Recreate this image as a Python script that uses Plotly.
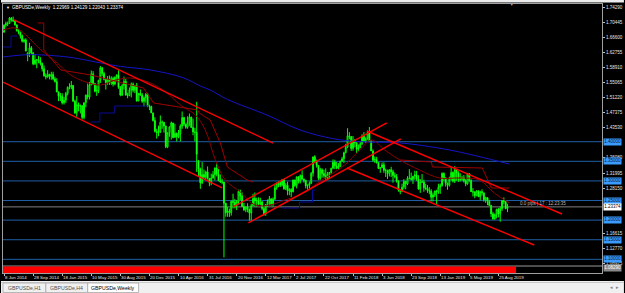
import plotly.graph_objects as go
import pandas as pd

FONT = "Liberation Sans, Arial, sans-serif"

# ---------------- weekly GBPUSD bars (week starting Sunday) ----------------
open_ = [
    # 2014
    1.6795,1.6975,1.7012,1.7018,1.7155,1.7106,1.7077,1.6980,1.6835,1.6785,
    1.6700,1.6560,1.6595,1.6200,1.6265,1.6395,1.6260,1.5985,1.6080,1.6090,
    1.6065,1.5995,1.5860,1.5680,1.5655,1.5720,1.5665,1.5715,1.5600,1.5535,
    # 2015
    1.5270,1.5160,1.5160,1.4995,1.5060,1.5235,1.5390,1.5395,1.5435,1.5030,
    1.4735,1.4945,1.4910,1.4915,1.4620,1.4995,1.5190,1.5140,1.5450,1.5730,
    1.5480,1.5285,1.5305,1.5570,1.5885,1.5740,1.5595,1.5510,1.5595,1.5510,
    1.5615,1.5470,1.5645,1.5700,1.5385,1.5190,1.5435,1.5535,1.5190,1.5180,
    1.5320,1.5470,1.5310,1.5430,1.5040,1.5235,1.5190,1.5030,1.5120,1.5210,
    1.4900,1.4900,
    # 2016
    1.4735,1.4540,1.4265,1.4235,1.4245,1.4500,1.4495,1.4400,1.3870,1.4230,
    1.4380,1.4480,1.4110,1.4215,1.4125,1.4200,1.4400,1.4615,1.4445,1.4370,
    1.4500,1.4630,1.4360,1.4250,1.4240,1.3500,1.3300,1.2950,1.3165,1.3095,
    1.3230,1.3060,1.2950,1.3075,1.3160,1.3330,1.3170,1.3005,1.2975,1.2970,
    1.2430,1.2190,1.2230,1.2190,1.2480,1.2455,1.2375,1.2475,1.2735,1.2615,
    1.2350,1.2265,
    # 2017
    1.2340,1.2285,1.2180,1.2370,1.2555,1.2490,1.2490,1.2410,1.2465,1.2295,
    1.2165,1.2400,1.2475,1.2545,1.2400,1.2535,1.2825,1.2940,1.2960,1.2890,
    1.3030,1.2800,1.2890,1.2745,1.2780,1.2720,1.3025,1.2885,1.3100,1.2995,
    1.3135,1.3045,1.3010,1.2875,1.2880,1.2935,1.3195,1.3615,1.3495,1.3395,
    1.3065,1.3285,1.3190,1.3135,1.3075,1.3185,1.3215,1.3325,1.3475,1.3385,
    1.3330,1.3365,1.3505,
    # 2018
    1.3565,1.3720,1.3860,1.4150,1.4130,1.3830,1.4025,1.3970,1.3810,1.3845,
    1.3950,1.4140,1.4020,1.4085,1.4235,1.4010,1.3765,1.3530,1.3545,1.3465,
    1.3315,1.3340,1.3410,1.3270,1.3265,1.3190,1.3285,1.3235,1.3140,1.3110,
    1.3000,1.2765,1.2735,1.2840,1.2990,1.2925,1.3070,1.3070,1.3035,1.3120,
    1.3150,1.3050,1.2795,1.2970,1.2975,1.2825,1.2805,1.2750,1.2745,1.2585,
    1.2640,1.2745,
    # 2019
    1.2720,1.2840,1.2880,1.3195,1.3075,1.2940,1.2890,1.3045,1.3215,1.3000,
    1.3290,1.3205,1.3035,1.3040,1.3085,1.3005,1.2925,1.3185,1.3010,1.2725,
    1.2715,1.2625,1.2740,1.2595,1.2725,1.2695,1.2520,1.2575,1.2480,1.2375,
    1.2160,1.2030,1.2145,1.2275,1.2160,1.2290,1.2500,1.2475,1.2297,
]
high = [
    # 2014
    1.6993,1.7063,1.7065,1.7180,1.7180,1.7191,1.7100,1.6990,1.6870,1.6810,
    1.6735,1.6630,1.6640,1.6280,1.6525,1.6440,1.6290,1.6230,1.6110,1.6185,
    1.6155,1.6020,1.5945,1.5740,1.5825,1.5730,1.5785,1.5785,1.5660,1.5620,
    # 2015
    1.5280,1.5245,1.5235,1.5145,1.5270,1.5410,1.5490,1.5550,1.5450,1.5070,
    1.5165,1.5000,1.4950,1.4930,1.5000,1.5200,1.5485,1.5525,1.5815,1.5800,
    1.5500,1.5440,1.5570,1.5930,1.5900,1.5785,1.5600,1.5675,1.5690,1.5670,
    1.5660,1.5665,1.5720,1.5820,1.5420,1.5480,1.5660,1.5605,1.5250,1.5385,
    1.5510,1.5510,1.5440,1.5500,1.5240,1.5335,1.5240,1.5155,1.5240,1.5240,
    1.4945,1.4920,
    # 2016
    1.4740,1.4625,1.4330,1.4410,1.4670,1.4540,1.4500,1.4410,1.4235,1.4385,
    1.4515,1.4480,1.4460,1.4235,1.4300,1.4445,1.4770,1.4635,1.4465,1.4650,
    1.4720,1.4635,1.4590,1.4355,1.5018,1.3535,1.3340,1.3480,1.3290,1.3260,
    1.3370,1.3075,1.3185,1.3250,1.3340,1.3445,1.3305,1.3160,1.3055,1.2970,
    1.2440,1.2335,1.2295,1.2495,1.2675,1.2540,1.2515,1.2775,1.2775,1.2705,
    1.2440,1.2345,
    # 2017
    1.2430,1.2290,1.2415,1.2675,1.2705,1.2570,1.2580,1.2570,1.2485,1.2330,
    1.2405,1.2525,1.2615,1.2550,1.2580,1.2905,1.2960,1.2990,1.2990,1.3050,
    1.3045,1.2945,1.2980,1.2815,1.2815,1.3030,1.3030,1.3115,1.3125,1.3165,
    1.3270,1.3060,1.3030,1.2915,1.2985,1.3225,1.3615,1.3657,1.3545,1.3405,
    1.3335,1.3320,1.3285,1.3320,1.3225,1.3225,1.3335,1.3550,1.3540,1.3485,
    1.3455,1.3515,1.3615,
    # 2018
    1.3745,1.3945,1.4345,1.4245,1.4140,1.4145,1.4070,1.3990,1.3930,1.4000,
    1.4190,1.4245,1.4110,1.4285,1.4377,1.4040,1.3805,1.3620,1.3615,1.3485,
    1.3340,1.3470,1.3475,1.3315,1.3290,1.3300,1.3360,1.3285,1.3215,1.3175,
    1.3010,1.2795,1.2930,1.3045,1.2995,1.3120,1.3300,1.3215,1.3125,1.3260,
    1.3255,1.3145,1.3045,1.3175,1.3030,1.2925,1.2895,1.2840,1.2790,1.2700,
    1.2745,1.2775,
    # 2019
    1.2930,1.2935,1.3215,1.3215,1.3095,1.2960,1.3110,1.3350,1.3245,1.3380,
    1.3305,1.3245,1.3195,1.3130,1.3150,1.3045,1.3195,1.3190,1.3040,1.2815,
    1.2740,1.2765,1.2765,1.2750,1.2785,1.2700,1.2595,1.2585,1.2520,1.2385,
    1.2210,1.2170,1.2290,1.2310,1.2345,1.2505,1.2580,1.2500,1.2413,
]
low = [
    # 2014
    1.6780,1.6920,1.6950,1.7005,1.7060,1.7060,1.6960,1.6810,1.6740,1.6630,
    1.6535,1.6520,1.6305,1.6052,1.6160,1.6235,1.5950,1.5960,1.5875,1.6000,
    1.5945,1.5790,1.5660,1.5590,1.5630,1.5590,1.5580,1.5565,1.5510,1.5265,
    # 2015
    1.5035,1.5035,1.4950,1.4950,1.4990,1.5180,1.5335,1.5340,1.5025,1.4710,
    1.4635,1.4775,1.4720,1.4565,1.4570,1.4880,1.5080,1.5080,1.5440,1.5450,
    1.5260,1.5170,1.5240,1.5500,1.5675,1.5565,1.5330,1.5450,1.5450,1.5450,
    1.5410,1.5440,1.5550,1.5350,1.5160,1.5170,1.5330,1.5175,1.5110,1.5160,
    1.5130,1.5260,1.5240,1.5025,1.5035,1.5170,1.4990,1.4895,1.4995,1.4880,
    1.4805,1.4735,
    # 2016
    1.4515,1.4235,1.4080,1.4140,1.4225,1.4330,1.4235,1.3835,1.3835,1.4125,
    1.4055,1.4085,1.4105,1.4005,1.4090,1.4005,1.4330,1.4400,1.4330,1.4330,
    1.4405,1.4355,1.4165,1.4010,1.3229,1.3120,1.2798,1.2925,1.3060,1.3045,
    1.3035,1.2865,1.2890,1.3060,1.3015,1.3115,1.3000,1.2950,1.2915,1.1050,
    1.2085,1.2085,1.2080,1.2115,1.2300,1.2300,1.2255,1.2400,1.2505,1.2340,
    1.2230,1.2200,
    # 2017
    1.2200,1.1986,1.1985,1.2360,1.2345,1.2345,1.2385,1.2385,1.2250,1.2110,
    1.2110,1.2340,1.2375,1.2365,1.2345,1.2515,1.2775,1.2840,1.2845,1.2860,
    1.2775,1.2770,1.2635,1.2635,1.2590,1.2710,1.2850,1.2810,1.2935,1.2935,
    1.3030,1.2955,1.2810,1.2775,1.2810,1.2925,1.3110,1.3450,1.3340,1.3025,
    1.3030,1.3085,1.3080,1.3030,1.3040,1.3060,1.3180,1.3300,1.3300,1.3300,
    1.3300,1.3355,1.3490,
    # 2018
    1.3455,1.3705,1.3835,1.4065,1.3765,1.3770,1.3855,1.3710,1.3765,1.3835,
    1.3920,1.3990,1.3965,1.4050,1.4010,1.3765,1.3490,1.3460,1.3445,1.3305,
    1.3205,1.3330,1.3205,1.3100,1.3050,1.3115,1.3100,1.2955,1.3065,1.2955,
    1.2725,1.2660,1.2720,1.2790,1.2785,1.2890,1.3040,1.3010,1.2920,1.3030,
    1.3000,1.2775,1.2695,1.2950,1.2725,1.2770,1.2695,1.2660,1.2475,1.2475,
    1.2590,1.2400,
    # 2019
    1.2670,1.2670,1.2855,1.3005,1.2855,1.2775,1.2855,1.3005,1.2960,1.2945,
    1.3005,1.2975,1.2985,1.3000,1.2960,1.2865,1.2905,1.2975,1.2720,1.2605,
    1.2560,1.2610,1.2590,1.2505,1.2630,1.2475,1.2440,1.2380,1.2370,1.2080,
    1.2015,1.2015,1.2045,1.2070,1.1959,1.2235,1.2410,1.2280,1.2204,
]
close = [
    # 2014
    1.6975,1.7012,1.7018,1.7155,1.7106,1.7077,1.6980,1.6835,1.6785,1.6700,
    1.6560,1.6595,1.6315,1.6265,1.6395,1.6260,1.5985,1.6080,1.6090,1.6065,
    1.5995,1.5860,1.5680,1.5655,1.5720,1.5665,1.5715,1.5600,1.5535,1.5270,
    # 2015
    1.5160,1.5160,1.4995,1.5060,1.5235,1.5390,1.5395,1.5435,1.5030,1.4735,
    1.4945,1.4910,1.4915,1.4620,1.4995,1.5190,1.5140,1.5450,1.5730,1.5480,
    1.5285,1.5305,1.5570,1.5885,1.5740,1.5595,1.5510,1.5595,1.5510,1.5615,
    1.5470,1.5645,1.5700,1.5385,1.5190,1.5435,1.5535,1.5190,1.5180,1.5320,
    1.5470,1.5310,1.5430,1.5040,1.5235,1.5190,1.5030,1.5120,1.5210,1.4900,
    1.4900,1.4735,
    # 2016
    1.4540,1.4265,1.4235,1.4245,1.4500,1.4495,1.4400,1.3870,1.4230,1.4380,
    1.4480,1.4110,1.4215,1.4125,1.4200,1.4400,1.4615,1.4445,1.4370,1.4500,
    1.4630,1.4360,1.4250,1.4240,1.3680,1.3300,1.2950,1.3165,1.3095,1.3230,
    1.3060,1.2950,1.3075,1.3160,1.3330,1.3170,1.3005,1.2975,1.2970,1.2430,
    1.2190,1.2230,1.2190,1.2480,1.2455,1.2375,1.2475,1.2735,1.2615,1.2350,
    1.2265,1.2340,
    # 2017
    1.2285,1.2180,1.2370,1.2555,1.2490,1.2490,1.2410,1.2465,1.2295,1.2165,
    1.2400,1.2475,1.2545,1.2400,1.2535,1.2825,1.2940,1.2960,1.2890,1.3030,
    1.2800,1.2890,1.2745,1.2780,1.2720,1.3025,1.2885,1.3100,1.2995,1.3135,
    1.3045,1.3010,1.2875,1.2880,1.2935,1.3195,1.3615,1.3495,1.3395,1.3065,
    1.3285,1.3190,1.3135,1.3075,1.3185,1.3215,1.3325,1.3475,1.3385,1.3330,
    1.3365,1.3505,1.3565,
    # 2018
    1.3720,1.3860,1.4150,1.4130,1.3830,1.4025,1.3970,1.3810,1.3845,1.3950,
    1.4140,1.4020,1.4085,1.4235,1.4010,1.3765,1.3530,1.3545,1.3465,1.3315,
    1.3340,1.3410,1.3270,1.3265,1.3190,1.3285,1.3235,1.3140,1.3110,1.3000,
    1.2765,1.2735,1.2840,1.2990,1.2925,1.3070,1.3070,1.3035,1.3120,1.3150,
    1.3050,1.2795,1.2970,1.2975,1.2825,1.2805,1.2750,1.2745,1.2585,1.2640,
    1.2745,1.2720,
    # 2019
    1.2840,1.2880,1.3195,1.3075,1.2940,1.2890,1.3045,1.3215,1.3000,1.3290,
    1.3205,1.3035,1.3040,1.3085,1.3005,1.2925,1.3185,1.3010,1.2725,1.2715,
    1.2625,1.2740,1.2595,1.2725,1.2695,1.2520,1.2575,1.2480,1.2375,1.2160,
    1.2030,1.2145,1.2275,1.2160,1.2290,1.2500,1.2475,1.2290,1.2337,
]
week_start = pd.date_range("2014-06-08", periods=len(close), freq="7D")

# ---------------- axis labels ----------------
x_tick_dates = ["2014-06-08", "2014-09-28", "2015-01-18", "2015-05-10", "2015-08-30",
                "2015-12-20", "2016-04-10", "2016-07-31", "2016-11-20", "2017-03-12",
                "2017-07-02", "2017-10-22", "2018-02-11", "2018-06-03", "2018-09-23",
                "2019-01-13", "2019-05-05", "2019-08-25"]
x_tick_labels = ["8 Jun 2014", "28 Sep 2014", "18 Jan 2015", "10 May 2015", "30 Aug 2015",
                 "20 Dec 2015", "10 Apr 2016", "31 Jul 2016", "20 Nov 2016", "12 Mar 2017",
                 "2 Jul 2017", "22 Oct 2017", "11 Feb 2018", "3 Jun 2018", "23 Sep 2018",
                 "13 Jan 2019", "5 May 2019", "25 Aug 2019"]
y_tick_labels = ["1.74290", "1.70445", "1.66600", "1.62755", "1.58910", "1.55065",
                 "1.51220", "1.47375", "1.43530", "1.36080", "1.31995", "1.28150",
                 "1.16615", "1.12770", "1.08925"]

# ---------------- objects on the chart ----------------
levels = [1.40, 1.35, 1.30, 1.25, 1.20, 1.15, 1.10]
current_price = 1.23374
bottom_line_price = 1.0829
title_text = "GBPUSDe,Weekly  1.22969 1.24129 1.22043 1.23374"
timer_text = "0.0 pips | 17 : 12:23:35"

# red trend lines: (start date, start price, end date, end price)
trend_x0 = ["2014-07-16", "2014-06-04", "2017-01-04", "2016-11-06", "2018-04-05", "2018-01-19"]
trend_y0 = [1.7105, 1.5523, 1.1927, 1.2335, 1.4273, 1.3330]
trend_x1 = ["2017-04-09", "2016-09-25", "2018-08-14", "2018-06-21", "2020-04-26", "2020-01-10"]
trend_y1 = [1.3967, 1.2820, 1.4070, 1.4478, 1.2156, 1.1365]

# long blue moving average
ma_blue_x = ["2014-06-04", "2014-08-12", "2014-10-01", "2015-02-09", "2015-06-15",
             "2015-08-31", "2015-12-24", "2016-04-29", "2016-07-03", "2016-08-10",
             "2016-10-15", "2017-03-17", "2017-07-22", "2017-11-25", "2018-03-09",
             "2018-08-10", "2019-02-17", "2019-10-06"]
ma_blue_y = [1.6161, 1.6210, 1.6220, 1.6160, 1.6010, 1.5920, 1.5830, 1.5630, 1.5421,
             1.5320, 1.5080, 1.4680, 1.4300, 1.4080, 1.4000, 1.3970, 1.3790, 1.3430]

# dark red moving average
ma_red_x = ["2014-06-04", "2014-07-24", "2014-08-31", "2014-10-28", "2014-12-25",
            "2015-02-20", "2015-04-19", "2015-06-15", "2015-08-12", "2015-10-08",
            "2015-12-24", "2016-02-20", "2016-04-17", "2016-06-14", "2016-07-22",
            "2016-08-30", "2016-10-07", "2016-12-04", "2017-01-30", "2017-03-29",
            "2017-05-25", "2017-07-22", "2017-09-17", "2017-11-14", "2018-01-10",
            "2018-03-09", "2018-04-24", "2018-06-13", "2018-08-10", "2018-10-25",
            "2019-01-10", "2019-03-28", "2019-06-13", "2019-08-09", "2019-10-06"]
ma_red_y = [1.6850, 1.6901, 1.6722, 1.6340, 1.6034, 1.5702, 1.5523, 1.5447, 1.5574,
            1.5625, 1.5498, 1.5268, 1.4937, 1.4682, 1.4299, 1.3534, 1.3024, 1.2718,
            1.2386, 1.2386, 1.2513, 1.2641, 1.2896, 1.3151, 1.3406, 1.3789, 1.4044,
            1.3789, 1.3534, 1.3279, 1.3075, 1.3075, 1.3024, 1.2692, 1.2437]

# dark red upper channel line, pieces visible in the picture (None = gap)
chan_red_x = ["2014-10-16", "2014-11-08", "2014-11-08", "2015-01-13", "2015-05-08",
              "2015-09-11", "2015-11-27", "2016-01-05", "2016-06-22", "2016-06-29",
              "2016-08-10", "2016-09-18", "2016-10-15", "2016-12-30", "2017-01-22",
              None,
              "2018-08-10", "2018-12-10", "2018-12-14", "2019-06-24", "2019-07-29",
              "2019-10-06"]
chan_red_y = [1.7029, 1.7029, 1.6340, 1.5828, 1.5702, 1.5498, 1.5370, 1.4988, 1.4810,
              1.4733, 1.4554, 1.3967, 1.3355, 1.3024, 1.2973,
              None,
              1.3534, 1.3483, 1.3355, 1.3330, 1.2819, 1.2819]

# navy step line segments
step_a_x = ["2014-06-04", "2014-07-05", "2014-07-28"]
step_a_y = [1.6416, 1.6697, 1.6697]
step_b_x = ["2015-05-08", "2015-06-12", "2015-08-08", "2015-12-16"]
step_b_y = [1.4503, 1.4733, 1.4911, 1.4911]
step_c_x = ["2017-05-14", "2017-07-20", "2017-09-08", "2017-09-20"]
step_c_y = [1.2309, 1.2462, 1.2768, 1.2768]

red_box_end = "2019-11-01"
red_box_low, red_box_high = 1.0640, 1.0815

# ---------------- figure ----------------
W, H = 625, 293
ML, MR, MT, MB = 2, 22, 4, 20
PW, PH = W - ML - MR, H - MT - MB


def px(xp):
    return (xp - ML) / PW


def py(yp):
    return (H - MB - yp) / PH


fig = go.Figure()

for lv in levels:
    fig.add_shape(type="line", xref="paper", x0=0, x1=1, yref="y", y0=lv, y1=lv,
                  line=dict(color="#1f5fa6", width=1), layer="below")
fig.add_shape(type="line", xref="paper", x0=0, x1=1, yref="y", y0=current_price,
              y1=current_price, line=dict(color="#808080", width=1), layer="below")
fig.add_shape(type="line", xref="paper", x0=0, x1=1, yref="y", y0=bottom_line_price,
              y1=bottom_line_price, line=dict(color="#9a9a9a", width=1), layer="below")
fig.add_shape(type="rect", xref="x", x0="2014-05-01", x1=red_box_end, yref="y",
              y0=red_box_low, y1=red_box_high, fillcolor="#ff0000",
              line=dict(width=0), layer="below")

fig.add_trace(go.Scatter(x=ma_blue_x, y=ma_blue_y, mode="lines", line_shape="spline",
                         line=dict(color="#1414c8", width=1), hoverinfo="skip"))
fig.add_trace(go.Scatter(x=ma_red_x, y=ma_red_y, mode="lines", line_shape="spline",
                         line=dict(color="#8b0000", width=1), hoverinfo="skip"))
fig.add_trace(go.Scatter(x=chan_red_x, y=chan_red_y, mode="lines", connectgaps=False,
                         line=dict(color="#a00000", width=1), hoverinfo="skip"))
for sx, sy in ((step_a_x, step_a_y), (step_b_x, step_b_y), (step_c_x, step_c_y)):
    fig.add_trace(go.Scatter(x=sx, y=sy, mode="lines", line_shape="hv",
                             line=dict(color="#0a0a96", width=1), hoverinfo="skip"))

fig.add_trace(go.Candlestick(
    x=week_start, open=open_, high=high, low=low, close=close,
    increasing=dict(line=dict(color="#00ff00", width=1), fillcolor="#000000"),
    decreasing=dict(line=dict(color="#00ff00", width=1), fillcolor="#d8ffd8"),
    whiskerwidth=0, hoverinfo="skip"))

for x0, y0, x1, y1 in zip(trend_x0, trend_y0, trend_x1, trend_y1):
    fig.add_trace(go.Scatter(x=[x0, x1], y=[y0, y1], mode="lines",
                             line=dict(color="#ff0000", width=1.4), hoverinfo="skip"))

# price labels on the right scale
for lv in levels:
    fig.add_annotation(x=1, xref="paper", y=lv, yref="y", text=f"{lv:.5f}",
                       showarrow=False, xanchor="left", xshift=1,
                       font=dict(size=4.5, color="#06143c", family=FONT),
                       bgcolor="#3a9cff", borderpad=0.3)
fig.add_annotation(x=1, xref="paper", y=current_price, yref="y", text=f"{current_price:.5f}",
                   showarrow=False, xanchor="left", xshift=1,
                   font=dict(size=4.5, color="#000000", family=FONT),
                   bgcolor="#ffffff", borderpad=0.3)
fig.add_annotation(x=1, xref="paper", y=bottom_line_price - 0.006, yref="y",
                   text=f"{bottom_line_price:.5f}", showarrow=False, xanchor="left", xshift=1,
                   font=dict(size=4.5, color="#ffffff", family=FONT),
                   bgcolor="#8a8a8a", borderpad=0.3)
fig.add_annotation(x="2019-11-08", xref="x", y=current_price, yref="y", text=timer_text,
                   showarrow=False, xanchor="left", yanchor="bottom", yshift=-1,
                   font=dict(size=4.5, color="#b8b8b8", family=FONT))

# date labels, left-aligned on their ticks as in the terminal
for d, lab in zip(x_tick_dates, x_tick_labels):
    fig.add_annotation(x=d, xref="x", y=py(277.5), yref="paper", text=lab, showarrow=False,
                       xanchor="left", yanchor="middle", xshift=-1,
                       font=dict(size=4.4, color="#e6e6e6", family=FONT))

# title
fig.add_annotation(x=px(3), y=py(7), xref="paper", yref="paper", text="▼", showarrow=False,
                   xanchor="left", yanchor="middle", font=dict(size=4, color="#ffffff", family=FONT))
fig.add_annotation(x=px(9), y=py(7), xref="paper", yref="paper", text=title_text,
                   showarrow=False, xanchor="left", yanchor="middle",
                   font=dict(size=4.6, color="#ffffff", family=FONT))
# chart shift marker
fig.add_annotation(x=px(512), y=py(5), xref="paper", yref="paper", text="▼", showarrow=False,
                   xanchor="center", yanchor="middle", font=dict(size=3.5, color="#a0a0a0", family=FONT))

# top toolbar strip and bottom tab bar
fig.add_shape(type="rect", xref="paper", yref="paper", x0=px(0), x1=px(W), y0=py(0), y1=py(2.5),
              fillcolor="#ececec", line=dict(width=0), layer="above")
fig.add_shape(type="rect", xref="paper", yref="paper", x0=px(0), x1=px(W), y0=py(281), y1=py(H),
              fillcolor="#f0f0f0", line=dict(width=0), layer="above")
fig.add_shape(type="line", xref="paper", yref="paper", x0=px(0), x1=px(W), y0=py(282.5), y1=py(282.5),
              line=dict(color="#c8c8c8", width=1), layer="above")
tab_names = ["GBPUSDe,H1", "GBPUSDe,H4", "GBPUSDe,Weekly"]
tab_left = [2, 45, 87]
tab_right = [45, 87, 138]
for i, name in enumerate(tab_names):
    active = name == "GBPUSDe,Weekly"
    fig.add_shape(type="rect", xref="paper", yref="paper", x0=px(tab_left[i]), x1=px(tab_right[i]),
                  y0=py(283), y1=py(292.5), fillcolor="#ffffff" if active else "#f0f0f0",
                  line=dict(color="#a8a8a8", width=0.8), layer="above")
    fig.add_annotation(x=px((tab_left[i] + tab_right[i]) / 2), y=py(288), xref="paper", yref="paper",
                       text=name, showarrow=False, xanchor="center", yanchor="middle",
                       font=dict(size=5.2, color="#000000" if active else "#505050", family=FONT))
fig.add_annotation(x=px(616), y=py(287), xref="paper", yref="paper", text="◂  ▸", showarrow=False,
                   xanchor="center", yanchor="middle", font=dict(size=4.5, color="#808080", family=FONT))

fig.update_layout(
    width=W, height=H, margin=dict(l=ML, r=MR, t=MT, b=MB),
    paper_bgcolor="#000000", plot_bgcolor="#000000",
    showlegend=False, hovermode=False,
    xaxis=dict(type="date", range=["2014-06-04", "2020-09-27"],
               tickvals=x_tick_dates, showticklabels=False,
               ticks="outside", ticklen=2, tickcolor="#c0c0c0",
               showgrid=False, zeroline=False, showline=True, linecolor="#a0a0a0",
               linewidth=1, mirror=True, rangeslider=dict(visible=False), fixedrange=True),
    yaxis=dict(side="right", range=[1.0651, 1.7513],
               tickvals=[float(s) for s in y_tick_labels], ticktext=y_tick_labels,
               ticks="outside", ticklen=2, tickcolor="#c0c0c0",
               tickfont=dict(size=4.5, color="#e6e6e6", family=FONT),
               showgrid=False, zeroline=False, showline=True, linecolor="#a0a0a0",
               linewidth=1, mirror=True, fixedrange=True),
)

fig.write_html("out.html")
